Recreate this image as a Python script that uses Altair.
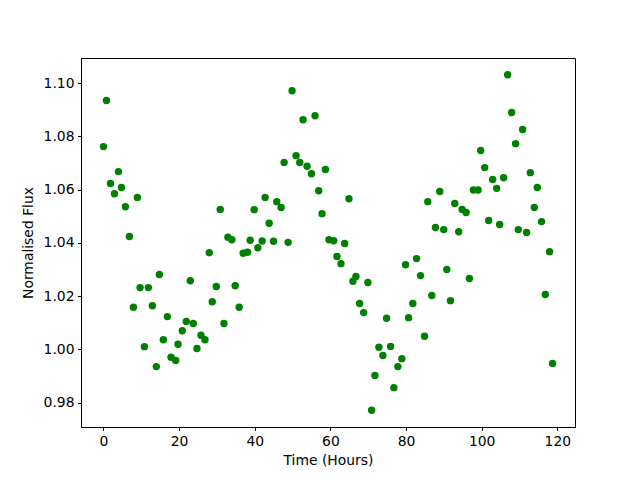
import altair as alt
import pandas as pd

time_hours = [0.0, 0.79, 1.85, 2.90, 3.96, 4.75, 5.80, 6.86, 7.92, 8.97,
              9.68, 10.82, 11.87, 12.93, 13.98, 14.78, 15.83, 16.89, 17.86, 19.10,
              19.71, 20.84, 21.90, 22.96, 23.75, 24.72, 25.78, 26.83, 27.97, 28.76,
              29.82, 30.87, 31.85, 32.90, 33.96, 34.83, 35.88, 36.94, 38.10, 38.79,
              39.84, 40.82, 41.95, 42.74, 43.80, 44.96, 45.83, 46.97, 47.76, 48.81,
              49.87, 50.92, 51.90, 52.77, 53.83, 54.99, 55.94, 56.91, 57.78, 58.68,
              59.63, 60.87, 61.74, 62.80, 63.77, 64.91, 65.96, 66.75, 67.73, 68.79,
              69.92, 70.90, 71.77, 72.82, 73.88, 74.85, 75.91, 76.78, 77.84, 78.89,
              79.87, 80.66, 81.79, 82.77, 83.83, 84.88, 85.75, 86.81, 87.78, 88.92,
              89.97, 90.77, 91.74, 92.88, 93.93, 94.83, 95.88, 96.75, 97.81, 99.05,
              99.74, 100.79, 101.85, 102.90, 103.96, 104.75, 105.80, 106.86, 107.92, 108.97,
              109.68, 110.82, 111.87, 112.85, 113.91, 114.70, 115.83, 116.81, 117.94, 118.73]

flux = [1.0762, 1.0935, 1.0623, 1.0585, 1.0668, 1.0608, 1.0536, 1.0424, 1.0158, 1.0571,
        1.0232, 1.0010, 1.0232, 1.0164, 0.9935, 1.0281, 1.0036, 1.0123, 0.9970, 0.9958,
        1.0019, 1.0070, 1.0105, 1.0258, 1.0097, 1.0003, 1.0053, 1.0036, 1.0363, 1.0179,
        1.0236, 1.0526, 1.0097, 1.0421, 1.0412, 1.0239, 1.0158, 1.0361, 1.0365, 1.0410,
        1.0525, 1.0382, 1.0407, 1.0571, 1.0474, 1.0406, 1.0555, 1.0533, 1.0702, 1.0402,
        1.0972, 1.0728, 1.0702, 1.0863, 1.0688, 1.0660, 1.0878, 1.0596, 1.0510, 1.0676,
        1.0412, 1.0408, 1.0349, 1.0322, 1.0398, 1.0566, 1.0256, 1.0274, 1.0172, 1.0138,
        1.0251, 0.9771, 0.9902, 1.0008, 0.9977, 1.0117, 1.0011, 0.9856, 0.9935, 0.9965,
        1.0318, 1.0119, 1.0172, 1.0341, 1.0277, 1.0049, 1.0555, 1.0202, 1.0458, 1.0593,
        1.0450, 1.0300, 1.0183, 1.0548, 1.0442, 1.0526, 1.0514, 1.0266, 1.0599, 1.0599,
        1.0747, 1.0683, 1.0484, 1.0638, 1.0605, 1.0469, 1.0645, 1.1032, 1.0890, 1.0773,
        1.0450, 1.0826, 1.0439, 1.0664, 1.0533, 1.0608, 1.0480, 1.0206, 1.0367, 0.9947]

x_ticks = [0, 20, 40, 60, 80, 100, 120]
y_ticks = [0.98, 1.00, 1.02, 1.04, 1.06, 1.08, 1.10]

df = pd.DataFrame({"t": time_hours, "f": flux})

FONT = "DejaVu Sans"

chart = alt.Chart(df).mark_point(
    filled=True, shape="circle", size=55, color="#008000", opacity=1
).encode(
    x=alt.X("t:Q", title="Time (Hours)",
            scale=alt.Scale(domain=[-5.94, 124.67], nice=False, zero=False),
            axis=alt.Axis(values=x_ticks, format="d", grid=False, titlePadding=6)),
    y=alt.Y("f:Q", title="Normalised Flux",
            scale=alt.Scale(domain=[0.9708, 1.1095], nice=False, zero=False),
            axis=alt.Axis(values=y_ticks, format=".2f", grid=False, titlePadding=8)),
).properties(
    width=494, height=369,
    autosize=alt.AutoSizeParams(type="none"),
    padding={"left": 73, "top": 50, "right": 57, "bottom": 45},
).configure_view(
    stroke="black", strokeWidth=1
).configure_axis(
    domainColor="black", tickColor="black", tickSize=3.5, tickWidth=1,
    labelColor="black", titleColor="black", labelFont=FONT, titleFont=FONT,
    labelFontSize=13.9, titleFontSize=13.9, titleFontWeight="normal",
    labelPadding=3.5, domainWidth=1
)

chart.save("out.html", embed_options={"renderer": "svg", "actions": False})
